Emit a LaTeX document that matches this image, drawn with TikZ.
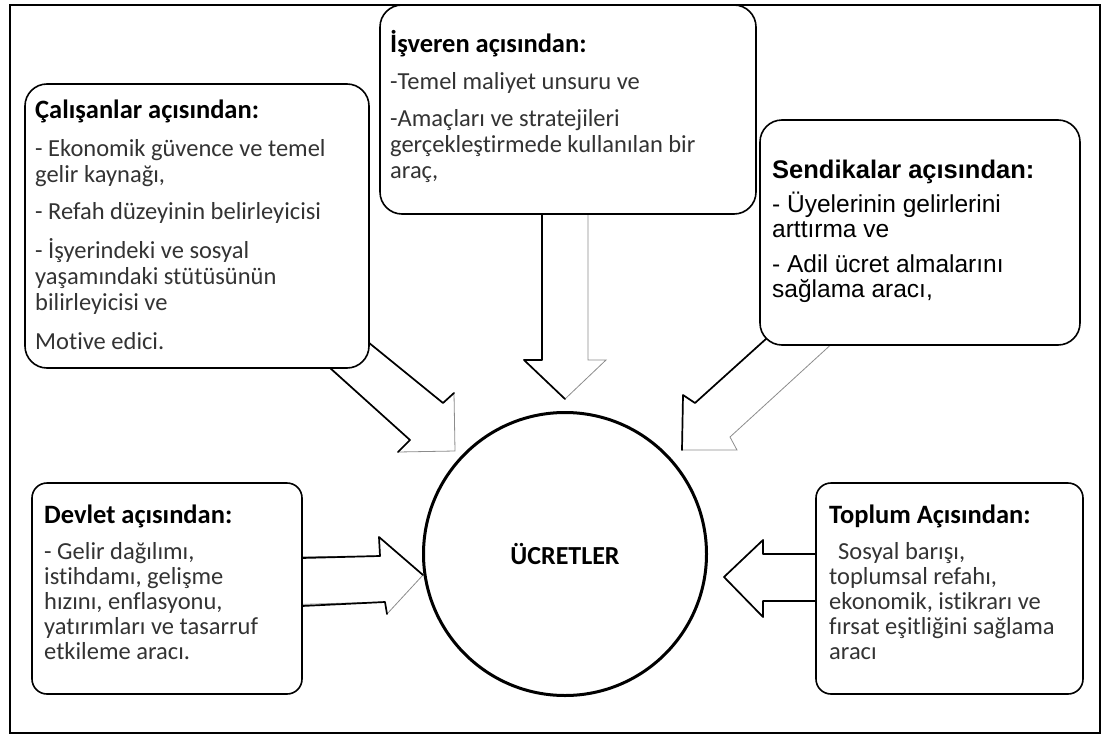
\documentclass[tikz,border=0pt]{standalone}
\usepackage{fontspec}
\setmainfont{Carlito}[Ligatures=NoCommon]
\newfontfamily\arialfont{Liberation Sans}

\newcommand{\tightlines}{\lineskiplimit=-40pt\lineskip=0pt}

\tikzset{
  frame/.style={draw=black, line width=1.8pt},
  panel/.style={draw=black, line width=1.6pt, fill=white, rounded corners=22pt, inner sep=0pt},
  lowpanel/.style={panel, rounded corners=15pt},
  hub/.style={circle, draw=black, line width=3pt, fill=white, inner sep=0pt, minimum size=283pt},
  title/.style={anchor=base west, inner sep=0pt, text=black, font=\fontsize{26.5}{28}\selectfont\bfseries},
  body/.style={anchor=base west, inner sep=0pt, align=left, text=black!80, font=\fontsize{24.5}{26}\selectfont\tightlines},
  atitle/.style={title, font=\arialfont\fontsize{25.5}{27}\selectfont\bfseries},
  abody/.style={body, text=black, font=\arialfont\fontsize{24.5}{25}\selectfont\tightlines},
  blockfill/.style={fill=white, draw=black!45, line width=0.8pt, line join=miter},
  darkedge/.style={draw=black, line width=1.7pt, line cap=round, line join=round},
}

\begin{document}
\begin{tikzpicture}[x=1pt, y=-1pt]
\useasboundingbox (0,0) rectangle (1103,736);

% outer frame
\draw[frame] (10,5) rectangle (1100,733);

% ---------- block arrows (drawn first, panels cover their tails) ----------
% employees -> wages (down-right)
\draw[blockfill] (338,318) -- (443,403) -- (454,393) -- (455,451) -- (398,452) -- (410,440) -- (300,340) -- cycle;
\draw[darkedge] (368,342) -- (443,403) -- (454,393);
\draw[darkedge] (398,452) -- (410,440) -- (330,368);

% employer -> wages (down)
\draw[blockfill] (542,200) -- (542,360) -- (524,360) -- (565,399) -- (606,360) -- (588,360) -- (588,200) -- cycle;
\draw[darkedge] (542,214) -- (542,360) -- (524,360) -- (565,399);

% unions -> wages (down-left)
\draw[blockfill] (795,313) -- (695,403) -- (683,395) -- (682,450) -- (737,450) -- (730,437) -- (860,318) -- cycle;
\draw[darkedge] (767,338) -- (695,403) -- (683,395) -- (682,450);

% state -> wages (right)
\draw[blockfill] (280,557) -- (380,556) -- (379,537) -- (423,575) -- (387,614) -- (385,602) -- (280,605) -- cycle;
\draw[darkedge] (302,558) -- (380,556) -- (379,537) -- (423,575);
\draw[darkedge] (387,614) -- (385,602) -- (302,606);

% society -> wages (left)
\draw[blockfill] (840,554) -- (763,554) -- (763,540) -- (724,577) -- (763,617) -- (763,601) -- (840,601) -- cycle;
\draw[darkedge] (816,554) -- (763,554) -- (763,540) -- (724,577) -- (763,617) -- (763,601) -- (816,601);

% ---------- panels ----------
\node[panel, minimum width=344pt, minimum height=284pt] (calisan) at (197,226) {};
\node[panel, minimum width=376pt, minimum height=209pt] (isveren) at (568,109.5) {};
\node[panel, minimum width=320pt, minimum height=225pt] (sendika) at (920,232.5) {};
\node[lowpanel, minimum width=270pt, minimum height=211pt] (devlet) at (167,588.5) {};
\node[lowpanel, minimum width=267pt, minimum height=211pt] (toplum) at (949.5,588.5) {};

% central circle
\node[hub] (ucret) at (565,554) {};
\node[inner sep=0pt, font=\fontsize{26}{28}\selectfont\bfseries] (ucretlabel) at (565,554) {ÜCRETLER};

% ---------- panel texts (body nodes sit on the baseline of their last line) ----------
\node[title] (calisanT) at (35,118) {Çalışanlar açısından:};
\node[body] (calisanB) at (35,349) {- Ekonomik güvence ve temel\\
gelir kaynağı,\\[11pt]
- Refah düzeyinin belirleyicisi\\[13pt]
- İşyerindeki ve sosyal\\
yaşamındaki stütüsünün\\
bilirleyicisi ve\\[13pt]
Motive edici.};

\node[title] (isverenT) at (390,52) {İşveren açısından:};
\node[body] (isverenB) at (390,178) {-Temel maliyet unsuru ve\\[11pt]
-Amaçları ve stratejileri\\
gerçekleştirmede kullanılan bir\\
araç,};

\node[atitle] (sendikaT) at (772,178) {Sendikalar açısından:};
\node[abody] (sendikaB) at (772,297) {- Üyelerinin gelirlerini\\
arttırma ve\\[10pt]
- Adil ücret almalarını\\
sağlama aracı,};

\node[title] (devletT) at (44,523) {Devlet açısından:};
\node[body, font=\fontsize{24.5}{25}\selectfont\tightlines] (devletB) at (44,659) {- Gelir dağılımı,\\
istihdamı, gelişme\\
hızını, enflasyonu,\\
yatırımları ve tasarruf\\
etkileme aracı.};

\node[title] (toplumT) at (829,523) {Toplum Açısından:};
\node[body, font=\fontsize{24.5}{25}\selectfont\tightlines] (toplumB) at (829,659) {\hspace*{9pt}Sosyal barışı,\\
toplumsal refahı,\\
ekonomik, istikrarı ve\\
fırsat eşitliğini sağlama\\
aracı};

\end{tikzpicture}
\end{document}
